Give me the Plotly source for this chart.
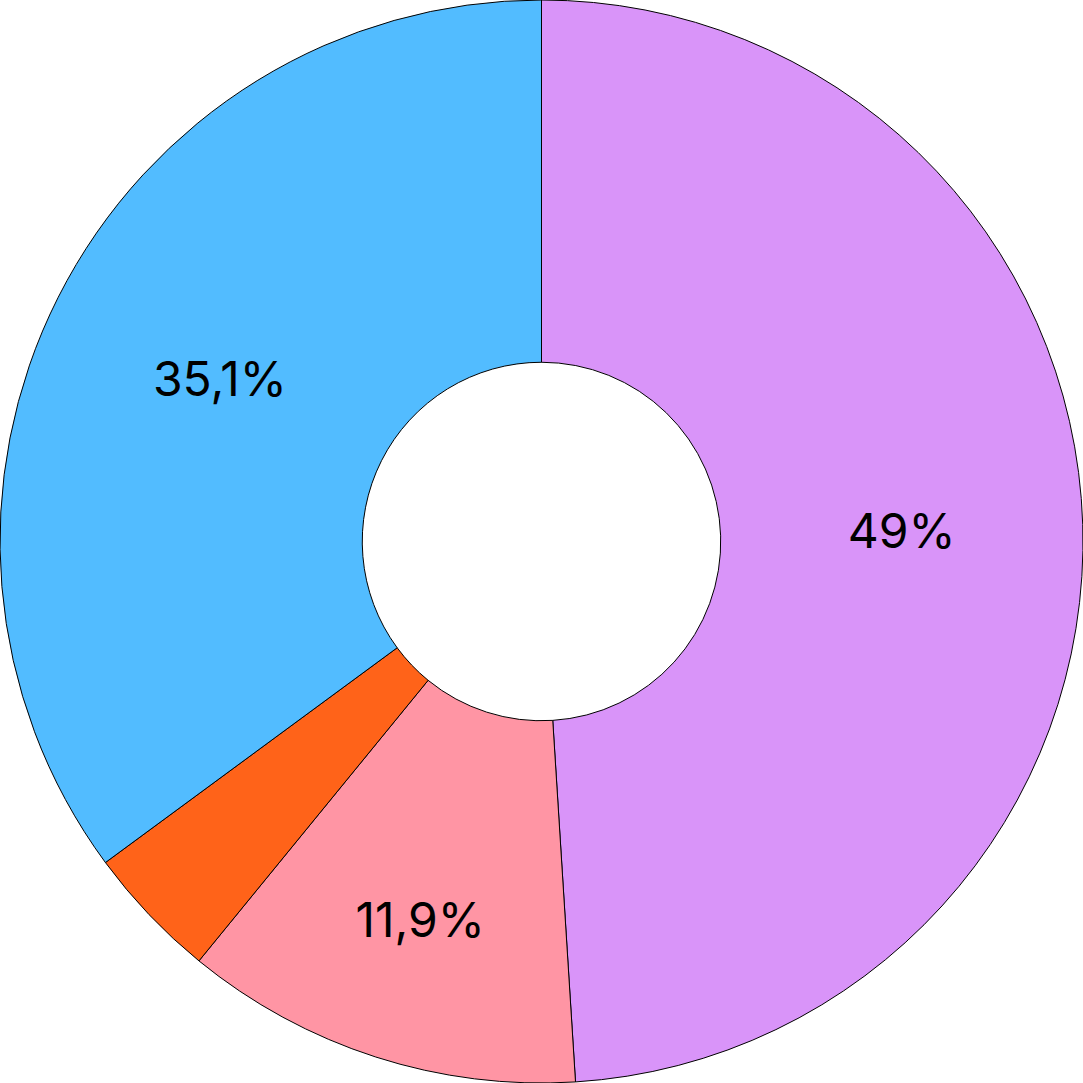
import plotly.graph_objects as go

labels = ["A", "B", "C", "D"]
values = [49.0, 11.9, 4.0, 35.1]
colors = ["#D994F9", "#FF95A4", "#FF6319", "#52BCFF"]
templates = ["%{percent:.1~%}", "%{percent:.1~%}", "", "%{percent:.1~%}"]

fig = go.Figure(go.Pie(
    labels=labels,
    values=values,
    hole=0.331,
    sort=False,
    direction="clockwise",
    rotation=0,
    marker=dict(colors=colors, line=dict(color="#000000", width=1)),
    texttemplate=templates,
    textposition="inside",
    insidetextorientation="horizontal",
    textfont=dict(family="Inter", size=48, color="#000000"),
    showlegend=False,
    hoverinfo="none",
))
fig.update_layout(
    width=1083, height=1083,
    margin=dict(l=0, r=0, t=0, b=0),
    paper_bgcolor="white",
    separators=", ",
)
fig.write_html(
    "out.html",
    config={"displayModeBar": False},
    post_script="document.body.style.margin='0';document.body.style.overflow='hidden';",
)
